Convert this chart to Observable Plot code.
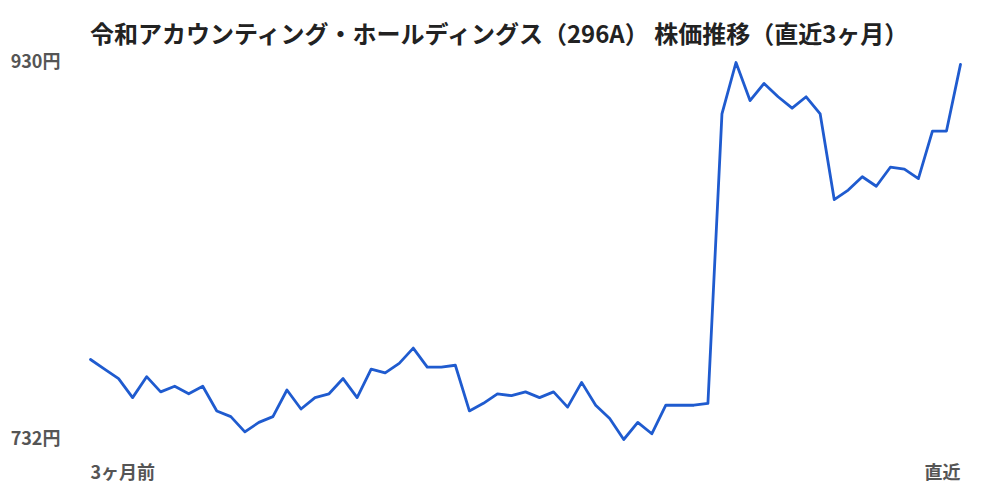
<!DOCTYPE html>
<html>
<head>
<meta charset="utf-8">
<script src="https://cdn.jsdelivr.net/npm/d3@7"></script>
<script src="https://cdn.jsdelivr.net/npm/@observablehq/plot@0.6"></script>
<style>
  body { margin: 0; background: #fff; font-family: "Noto Sans CJK JP", "Noto Sans", sans-serif; }
  #title { height: 45px; box-sizing: border-box; padding-top: 21px; padding-left: 90px; font-size: 24px; line-height: 24px; font-weight: 700; color: #222; white-space: nowrap; }
  svg { display: block; overflow: visible; }
</style>
</head>
<body>
<div id="title">令和アカウンティング・ホールディングス（296A） 株価推移（直近3ヶ月）</div>
<div id="chart"></div>
<script>
const prices = [774, 769, 764, 754, 765, 757, 760, 756, 760, 747,
  744, 736, 741, 744, 758, 748, 754, 756, 764, 754,
  769, 767, 772, 780, 770, 770, 771, 747, 751, 756,
  755, 757, 754, 757, 749, 762, 750, 743, 732, 741,
  735, 750, 750, 750, 751, 903, 930, 910, 919, 912,
  906, 912, 903, 858, 863, 870, 865, 875, 874, 869,
  894, 894, 929];
const yTicks = [732, 930];
const xLabels = ["3ヶ月前", "直近"];

const data = prices.map((v, i) => ({i, v}));
const last = prices.length - 1;

const chart = Plot.plot({
  width: 1000,
  height: 455,
  marginLeft: 90,
  marginRight: 40,
  marginTop: 17,
  marginBottom: 61,
  style: {fontFamily: "'Noto Sans CJK JP', sans-serif", background: "#fff", overflow: "visible"},
  x: {domain: [0, last], axis: null},
  y: {domain: [732, 930], ticks: yTicks, tickFormat: d => d + "円", tickSize: 0, tickPadding: 30, label: null},
  marks: [
    Plot.axisY({ticks: yTicks, tickFormat: d => d + "円", tickSize: 0, tickPadding: 30, label: null, fontSize: 18, fontWeight: 600, fill: "#555"}),
    Plot.line(data, {x: "i", y: "v", stroke: "#1f5bcf", strokeWidth: 2.8, strokeLinejoin: "round"}),
    Plot.text([{i: 0, t: xLabels[0]}], {x: "i", text: "t", frameAnchor: "bottom", textAnchor: "start", dy: 39, fontSize: 18, fontWeight: 600, fill: "#555"}),
    Plot.text([{i: last, t: xLabels[1]}], {x: "i", text: "t", frameAnchor: "bottom", textAnchor: "end", dy: 39, fontSize: 18, fontWeight: 600, fill: "#555"})
  ]
});
document.getElementById("chart").appendChild(chart);
</script>
</body>
</html>
